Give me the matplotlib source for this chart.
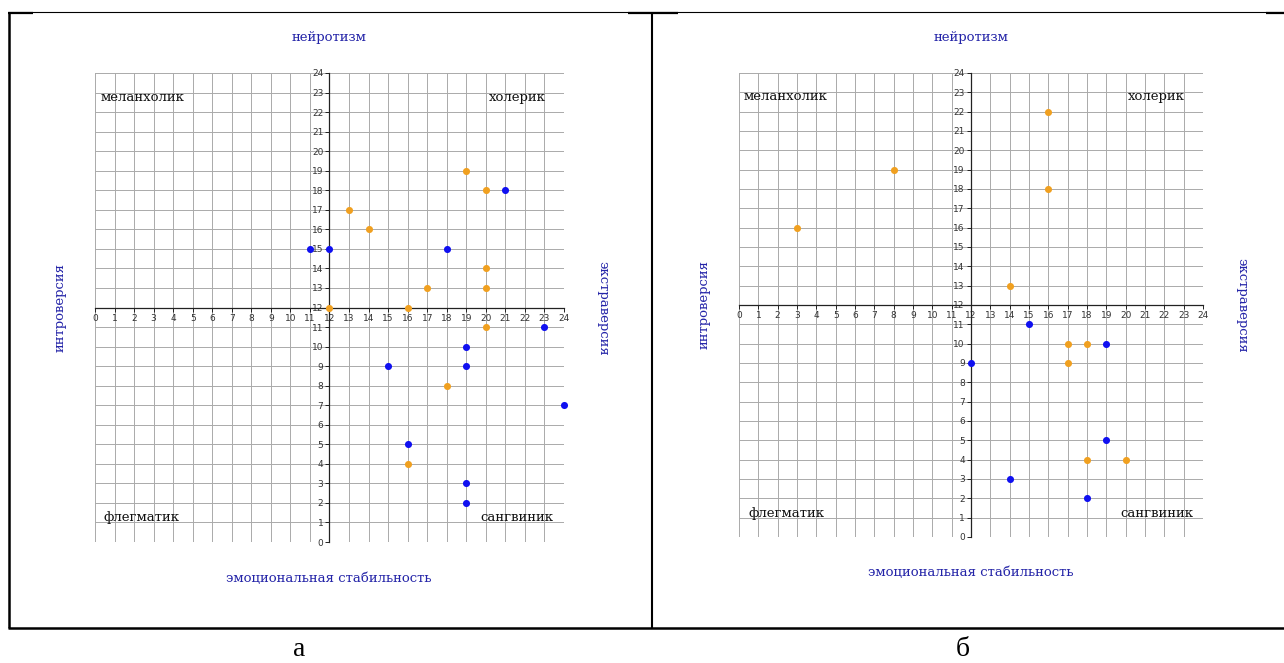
import matplotlib
matplotlib.use("Agg")
import matplotlib.pyplot as plt
from matplotlib.lines import Line2D

W, H = 1284, 663

# panel а
a_orange_x = [12, 13, 14, 16, 17, 19, 20, 20, 20, 20, 18, 16]
a_orange_y = [12, 17, 16, 12, 13, 19, 18, 14, 13, 11, 8, 4]
a_blue_x = [11, 12, 18, 21, 23, 19, 19, 15, 24, 16, 19, 19]
a_blue_y = [15, 15, 15, 18, 11, 10, 9, 9, 7, 5, 3, 2]

# panel б
b_orange_x = [3, 8, 16, 16, 14, 17, 18, 17, 18, 20]
b_orange_y = [16, 19, 22, 18, 13, 10, 10, 9, 4, 4]
b_blue_x = [15, 19, 12, 19, 14, 18]
b_blue_y = [11, 10, 9, 5, 3, 2]

ticks = list(range(0, 25))
quadrants = ["меланхолик", "холерик", "флегматик", "сангвиник"]
axis_names = ["нейротизм", "эмоциональная стабильность", "интроверсия", "экстраверсия"]
panel_names = ["а", "б"]

orange = "#f0a020"
blue = "#1010f0"
label_blue = "#2424a8"


def px(x, y):
    return x / W, 1 - y / H


fig = plt.figure(figsize=(W / 100, H / 100), dpi=100)


def panel(rect, ox, oy, bx, by, top_y, bot_y, mid_x, mid_y, left_x, right_x, quad_pos):
    l, t, r, b = rect
    ax = fig.add_axes([l / W, 1 - b / H, (r - l) / W, (b - t) / H])
    ax.set_xlim(0, 24)
    ax.set_ylim(0, 24)
    ax.set_xticks(ticks)
    ax.set_yticks(ticks)
    ax.grid(True, color="#aaaaaa", lw=0.7)
    ax.set_axisbelow(True)
    for s in ["top", "right"]:
        ax.spines[s].set_visible(False)
    ax.spines["left"].set_position(("data", 12))
    ax.spines["bottom"].set_position(("data", 12))
    for s in ["left", "bottom"]:
        ax.spines[s].set_color("#222222")
        ax.spines[s].set_linewidth(0.9)
    ax.tick_params(labelsize=6.5, length=3, width=0.7, pad=1.5,
                   colors="#222222", labelcolor="#333333")
    ax.scatter(ox, oy, s=26, color=orange, zorder=3, clip_on=False, linewidths=0)
    ax.scatter(bx, by, s=26, color=blue, zorder=3, clip_on=False, linewidths=0)
    (x1, y1), (x2, y2), (x3, y3), (x4, y4) = quad_pos
    kw = dict(family="DejaVu Serif", fontsize=9.5, color="#111111", va="center")
    ax.text(x1, y1, quadrants[0], ha="left", **kw)
    ax.text(x2, y2, quadrants[1], ha="right", **kw)
    ax.text(x3, y3, quadrants[2], ha="left", **kw)
    ax.text(x4, y4, quadrants[3], ha="right", **kw)

    lk = dict(family="DejaVu Serif", fontsize=9.5, color=label_blue, ha="center", va="center")
    fig.text(*px(mid_x, top_y), axis_names[0], **lk)
    fig.text(*px(mid_x, bot_y), axis_names[1], **lk)
    fig.text(*px(left_x, mid_y), axis_names[2], rotation=90, **lk)
    fig.text(*px(right_x, mid_y), axis_names[3], rotation=-90, **lk)
    return ax


panel((95, 73, 564, 542), a_orange_x, a_orange_y, a_blue_x, a_blue_y,
      37, 579, 329, 308, 60, 603,
      [(0.26, 22.77), (23.08, 22.77), (0.46, 1.23), (23.44, 1.23)])
panel((739, 73, 1203, 537), b_orange_x, b_orange_y, b_blue_x, b_blue_y,
      37, 573, 971, 305, 704, 1242,
      [(0.26, 22.81), (23.07, 22.81), (0.47, 1.24), (23.49, 1.24)])

# frame lines
def hline(x0, x1, y, lw):
    fig.add_artist(Line2D([x0 / W, x1 / W], [1 - y / H, 1 - y / H], color="black",
                          lw=lw, transform=fig.transFigure, solid_capstyle="butt"))


def vline(x, y0, y1, lw):
    fig.add_artist(Line2D([x / W, x / W], [1 - y0 / H, 1 - y1 / H], color="black",
                          lw=lw, transform=fig.transFigure, solid_capstyle="butt"))


hline(8, 1284, 12, 0.8)
hline(8, 33, 12.5, 1.6)
hline(628, 678, 12.5, 1.6)
hline(1266, 1284, 12.5, 1.6)
hline(8, 1284, 628, 1.8)
vline(8.5, 12, 628, 1.8)
vline(652, 12, 628, 1.5)

fig.text(*px(299, 650), panel_names[0], family="Liberation Serif", fontsize=20,
         ha="center", va="center")
fig.text(*px(963, 650), panel_names[1], family="Liberation Serif", fontsize=20,
         ha="center", va="center")

fig.savefig("out.png", dpi=100)
